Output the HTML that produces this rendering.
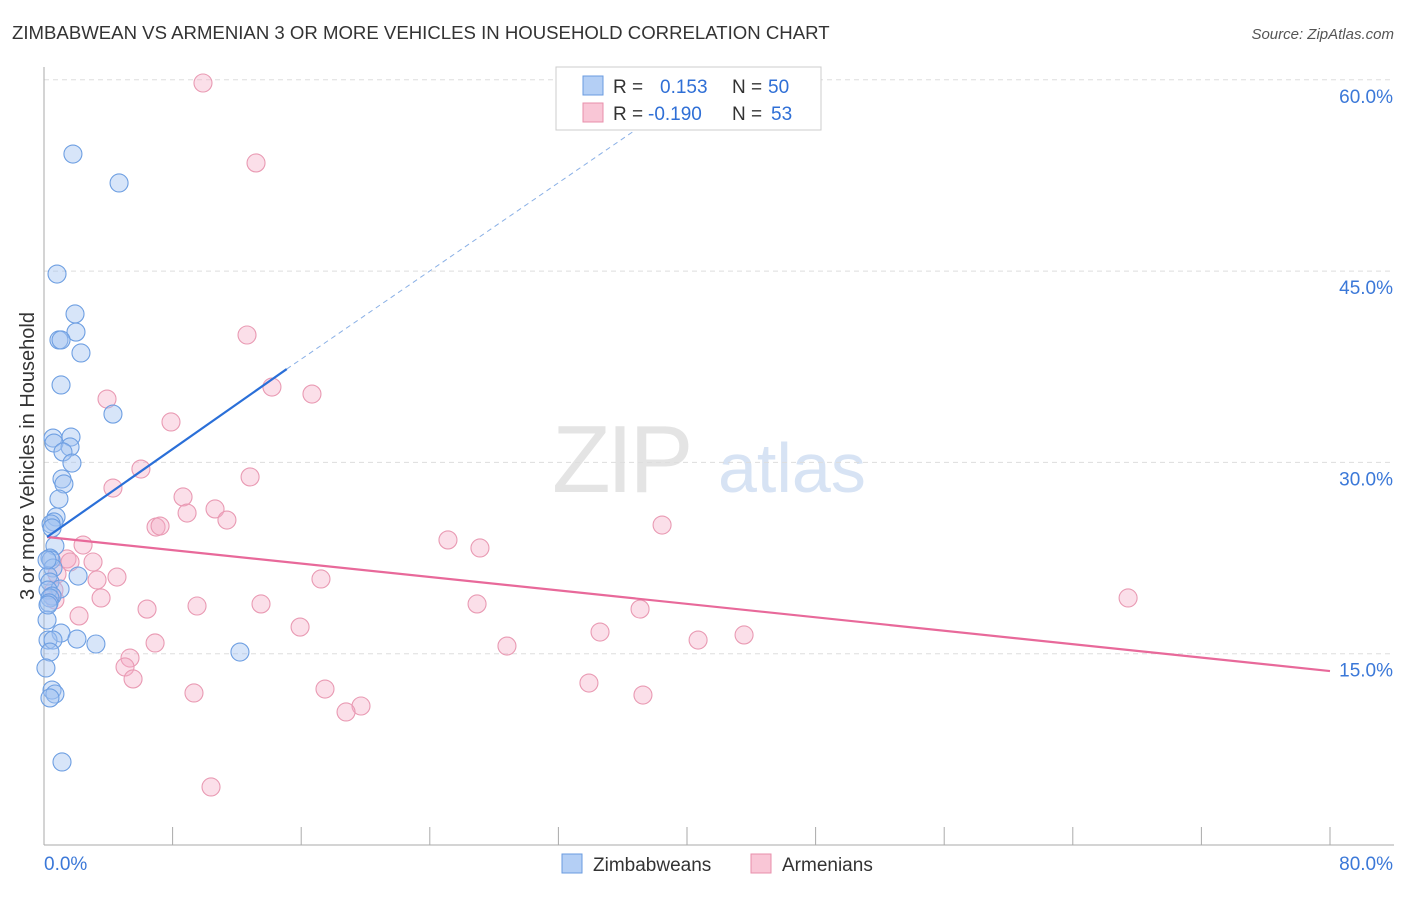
<!DOCTYPE html>
<html><head><meta charset="utf-8"><style>
body{margin:0;background:#fff;font-family:"Liberation Sans",sans-serif}
svg text{font-family:"Liberation Sans",sans-serif}
</style></head><body>
<svg id="c" width="1406" height="892" xmlns="http://www.w3.org/2000/svg">
<text x="12" y="39" font-size="18.6" fill="#333">ZIMBABWEAN VS ARMENIAN 3 OR MORE VEHICLES IN HOUSEHOLD CORRELATION CHART</text>
<text x="1394" y="39" font-size="15" fill="#555" font-style="italic" text-anchor="end">Source: ZipAtlas.com</text>
<text transform="translate(34,456) rotate(-90)" font-size="20" fill="#333" text-anchor="middle">3 or more Vehicles in Household</text>
<g><text x="552" y="492" font-size="96" fill="#e4e4e4" font-family="Liberation Serif" letter-spacing="-4">ZIP</text><text x="718" y="492" font-size="70" fill="#d7e3f4">atlas</text></g>
<g id="grid"></g><g id="marks"></g>
<g>
<rect x="556" y="67" width="265" height="63" fill="#fff" stroke="#ccc"/>
<rect x="583" y="76" width="20" height="19" fill="#b4cff5" stroke="#6a9be0"/>
<rect x="583" y="103" width="20" height="19" fill="#f9c6d6" stroke="#e88fab"/>
<text x="613" y="93" font-size="19" fill="#333">R = <tspan x="660" fill="#2f6fd6">0.153</tspan><tspan x="732" fill="#333">N = </tspan><tspan x="768" fill="#2f6fd6">50</tspan></text>
<text x="613" y="120" font-size="19" fill="#333">R = <tspan x="648" fill="#2f6fd6">-0.190</tspan><tspan x="732" fill="#333">N = </tspan><tspan x="771" fill="#2f6fd6">53</tspan></text>
</g>
<g>
<rect x="562" y="854" width="20" height="19" fill="#b4cff5" stroke="#6a9be0"/>
<text x="593" y="871" font-size="19" fill="#333">Zimbabweans</text>
<rect x="751" y="854" width="20" height="19" fill="#f9c6d6" stroke="#e88fab"/>
<text x="782" y="871" font-size="19" fill="#333">Armenians</text>
</g>
</svg>
<script>
const yTicks=[15,30,45,60];
const yTickLabels=["15.0%","30.0%","45.0%","60.0%"];
const xEnds=["0.0%","80.0%"];
const blueX=[1.80,4.67,0.81,1.93,1.99,0.93,1.06,2.30,1.06,4.29,0.56,1.68,0.62,1.62,1.18,1.74,1.12,1.24,0.93,0.75,0.62,0.44,0.50,0.68,0.37,0.44,0.56,2.12,0.25,0.37,1.00,0.25,0.50,0.37,0.31,0.19,1.06,2.05,3.23,0.25,0.56,0.37,0.12,0.50,0.68,0.37,12.19,1.12,0.19,0.25];
const blueY=[54.18,51.91,44.77,41.64,40.22,39.60,39.60,38.58,36.07,33.79,31.91,31.99,31.52,31.21,30.82,29.95,28.70,28.31,27.13,25.72,25.33,25.17,24.86,23.45,22.50,22.35,21.72,21.09,21.09,20.62,20.07,19.99,19.52,19.37,18.98,17.64,16.62,16.15,15.76,16.07,16.07,15.13,13.88,12.15,11.84,11.53,15.13,6.51,22.35,18.82];
const pinkX=[9.89,13.19,12.63,14.18,16.67,3.92,7.90,6.03,12.82,4.29,8.65,10.64,8.90,11.38,6.97,7.22,38.45,25.13,27.12,2.43,1.43,3.05,1.62,0.81,4.54,3.30,17.23,0.62,3.55,67.44,26.94,6.41,9.52,13.50,37.08,2.18,15.93,34.59,43.55,40.69,6.91,28.80,5.35,5.04,5.54,33.90,9.33,17.48,37.26,19.72,18.79,10.39,0.68];
const pinkY=[59.75,53.48,39.99,35.91,35.36,34.97,33.17,29.48,28.86,27.99,27.29,26.35,26.03,25.48,24.93,25.01,25.09,23.92,23.29,23.52,22.43,22.19,22.19,21.25,21.01,20.78,20.86,19.99,19.37,19.37,18.90,18.50,18.74,18.90,18.50,17.96,17.09,16.70,16.47,16.07,15.84,15.60,14.66,13.96,13.02,12.70,11.92,12.23,11.76,10.90,10.43,4.55,19.21];
const blueLine=[[0.19,24.15],[15.1,37.32]];
const blueDash=[[15.1,37.32],[37.7,56.85]];
const pinkLine=[[0.19,24.15],[80,13.64]];
const NS="http://www.w3.org/2000/svg";
const sx=v=>44+v/80*1286, sy=v=>845-v/15*191.3;
function mk(t,a,p){const e=document.createElementNS(NS,t);for(const k in a)e.setAttribute(k,a[k]);p.appendChild(e);return e;}
const g=document.getElementById('grid'),m=document.getElementById('marks');
yTicks.forEach((t,i)=>{
 const l=mk('line',{x1:44,x2:1394,y1:sy(t),y2:sy(t),stroke:'#ddd','stroke-dasharray':'5,4'},g);
 
 
 const tx=mk('text',{x:1393,y:sy(t)+23,'font-size':19,fill:'#3b78d8','text-anchor':'end'},g);
 tx.textContent=yTickLabels[i];
 
 
});
const ax=mk('line',{x1:44,x2:44,y1:67,y2:845,stroke:'#aaa'},g);


const bx=mk('line',{x1:44,x2:1394,y1:845,y2:845,stroke:'#aaa'},g);


for(let i=0;i<=10;i++){const t=mk('line',{x1:sx(i*8),x2:sx(i*8),y1:827,y2:845,stroke:'#aaa'},g);
 
 }
[[0,'start',44],[80,'end',1393]].forEach((d,i)=>{const t=mk('text',{x:d[2],y:870,'font-size':19,fill:'#3b78d8','text-anchor':d[1]},g);t.textContent=xEnds[i];
 
 });
function pts(X,Y,fill,stroke,name){X.forEach((x,i)=>{const c=mk('circle',{cx:sx(x),cy:sy(Y[i]),r:9,fill:fill,stroke:stroke,'stroke-width':1.1},m);
 
 });}
pts(pinkX,pinkY,'rgba(244,170,196,0.38)','#e99ab3','armenian-point');
pts(blueX,blueY,'rgba(160,194,240,0.42)','#6e9fe2','zimbabwean-point');
function ln(L,c,w,dash,name){const l=mk('line',{x1:sx(L[0][0]),y1:sy(L[0][1]),x2:sx(L[1][0]),y2:sy(L[1][1]),stroke:c,'stroke-width':w},m);if(dash)l.setAttribute('stroke-dasharray',dash);
 
 }
ln(pinkLine,'#e8699a',2.2,null,'armenian-trend-line');
ln(blueDash,'#8ab0e6',1,'5,4','zimbabwean-trend-extension');
ln(blueLine,'#2a6fd8',2.2,null,'zimbabwean-trend-line');
</script>
</body></html>
